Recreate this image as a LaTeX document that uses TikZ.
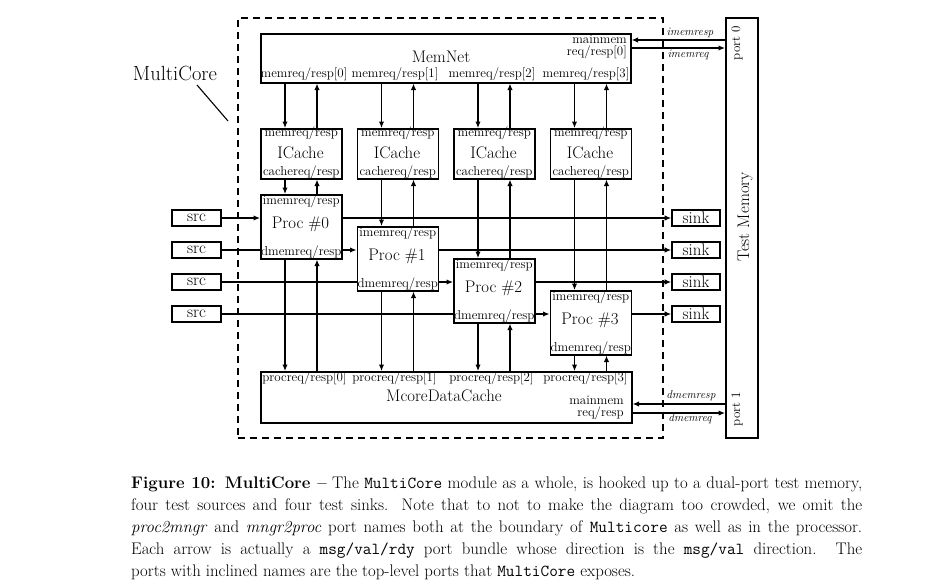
\documentclass[tikz,border=0pt]{standalone}
\usepackage{fontspec}
\usetikzlibrary{arrows.meta,calc}
\pgfdeclarelayer{bg}
\pgfsetlayers{bg,main}
\begin{document}
\begin{tikzpicture}[x=1pt,y=-1pt,
  box/.style={draw, line width=1.6pt, fill=white, inner sep=0pt},
  lbl/.style={inner sep=1pt, font=\fontsize{13}{12.2}\selectfont},
  big/.style={inner sep=0pt, font=\fontsize{16.8}{18}\selectfont},
  itl/.style={inner sep=0pt, font=\fontsize{11.5}{12}\selectfont\itshape},
  arr/.style={line width=1.2pt, -{Latex[length=6.5pt,width=5.5pt]}},
]
\begin{pgfonlayer}{bg}
\fill[white] (0,0) rectangle (949,584);
\end{pgfonlayer}
\useasboundingbox (0,0) rectangle (949,584);

% MultiCore boundary
\node[draw, line width=1.5pt, dash pattern=on 7pt off 5pt, minimum width=425pt, minimum height=420pt, inner sep=0pt, anchor=north west] (multicore) at (237,17) {};
\node[inner sep=0pt, font=\fontsize{20.5}{22}\selectfont] (mclbl) at (175,73) {MultiCore};
\coordinate (mcA) at (197,85);
\coordinate (mcB) at (228,121);
\draw[line width=1.1pt] (mcA) -- (mcB);

% Test memory
\node[box, minimum width=32pt, minimum height=420pt, anchor=north west] (testmem) at (725,17) {};
\node[big, rotate=90] (testmemtxt) at (745,217) {Test Memory};
\node[lbl, rotate=90, inner sep=0pt] (port0) at (737,43) {port 0};
\node[lbl, rotate=90, inner sep=0pt] (port1) at (737,409) {port 1};

% MemNet
\node[box, minimum width=370pt, minimum height=49pt, anchor=north west] (memnet) at (260,33) {};
\node[big] (memnettxt) at (441,57) {MemNet};
\node[lbl, align=right, anchor=north east] (memnetmm) at (628,33.5) {mainmem\\req/resp[0]};
\foreach \i/\x in {0/304,1/395,2/492,3/586}{
  \node[lbl, anchor=south, inner sep=1.5pt] (mnl\i) at (\x,82) {memreq/resp[\i]};
}

% McoreDataCache
\node[box, minimum width=371pt, minimum height=51pt, anchor=north west] (dc) at (260,371) {};
\node[big] (dctxt) at (444,396) {McoreDataCache};
\node[lbl, align=right, anchor=north east] (dcmm) at (625,394.5) {mainmem\\req/resp};
\foreach \i/\x in {0/304.5,1/394.5,2/491.5,3/585.5}{
  \node[lbl, anchor=north] (dcl\i) at (\x,371) {procreq/resp[\i]};
}

% columns, ICaches, processors, sources, sinks
\foreach \i in {0,...,3}{
  \pgfmathsetmacro\L{260+96.5*\i}
  \pgfmathsetmacro\Y{194+32*\i}
  \pgfmathsetmacro\R{218+32*\i}
  \coordinate (d\i) at (\L+25,0);
  \coordinate (u\i) at (\L+57,0);
  \node[box, minimum width=81pt, minimum height=50pt, anchor=north west] (ic\i) at (\L,128) {};
  \node[big] (ict\i) at (\L+40.5,153) {ICache};
  \node[lbl, anchor=north, inner sep=0pt, yshift=1pt] (ictop\i) at (ic\i.north) {memreq/resp};
  \node[lbl, anchor=south] (icbot\i) at (ic\i.south) {cachereq/resp};
  \node[box, minimum width=81pt, minimum height=64pt, anchor=north west] (proc\i) at (\L,\Y) {};
  \node[big] (proct\i) at (\L+40.5,\Y+30) {Proc \#\i};
  \node[lbl, anchor=north] (proctop\i) at (proc\i.north) {imemreq/resp};
  \node[lbl, anchor=south] (procbot\i) at (proc\i.south) {dmemreq/resp};
  \node[box, minimum width=49pt, minimum height=16pt] (src\i) at (196.5,\R) {\fontsize{16.8}{18}\selectfont src};
  \node[box, minimum width=48pt, minimum height=16pt] (sink\i) at (696,\R) {\fontsize{16.8}{18}\selectfont sink};
}

% top-level port labels
\node[itl] (imresp) at (690,33) {imemresp};
\node[itl] (imreq) at (688,55) {imemreq};
\node[itl] (dmresp) at (691,396) {dmemresp};
\node[itl] (dmreq) at (690,419) {dmemreq};

\coordinate (ya) at (0,40);
\coordinate (yb) at (0,48);
\coordinate (yc) at (0,404);
\coordinate (yd) at (0,413);

\begin{pgfonlayer}{bg}
\foreach \i in {0,...,3}{
  \draw[arr] (memnet.south -| d\i) -- (ic\i.north -| d\i);
  \draw[arr] (ic\i.north -| u\i) -- (memnet.south -| u\i);
  \draw[arr] (ic\i.south -| d\i) -- (proc\i.north -| d\i);
  \draw[arr] (proc\i.north -| u\i) -- (ic\i.south -| u\i);
  \draw[arr] (proc\i.south -| d\i) -- (dc.north -| d\i);
  \draw[arr] (dc.north -| u\i) -- (proc\i.south -| u\i);
  \draw[arr] (src\i.east) -- (proc\i.west |- src\i);
  \draw[arr] (proc\i.east |- sink\i) -- (sink\i.west);
}
\draw[arr] (testmem.west |- ya) -- (memnet.east |- ya);
\draw[arr] (memnet.east |- yb) -- (testmem.west |- yb);
\draw[arr] (testmem.west |- yc) -- (dc.east |- yc);
\draw[arr] (dc.east |- yd) -- (testmem.west |- yd);
\end{pgfonlayer}

% caption
\node[inner sep=0pt, anchor=north west, align=left, font=\fontsize{16.8}{22}\selectfont] (caption) at (131,477) {%
\makebox[731pt][s]{\textbf{Figure 10: MultiCore --} The \texttt{MultiCore} module as a whole, is hooked up to a dual-port test memory,}\\
\makebox[731pt][s]{four test sources and four test sinks. Note that to not to make the diagram too crowded, we omit the}\\
\makebox[731pt][s]{\textit{proc2mngr} and \textit{mngr2proc} port names both at the boundary of \texttt{Multicore} as well as in the processor.}\\
\makebox[731pt][s]{Each arrow is actually a \texttt{msg/val/rdy} port bundle whose direction is the \texttt{msg/val} direction. The}\\
ports with inclined names are the top-level ports that \texttt{MultiCore} exposes.};
\end{tikzpicture}
\end{document}
